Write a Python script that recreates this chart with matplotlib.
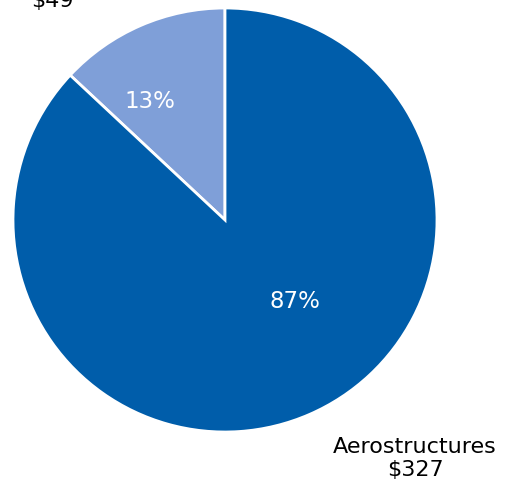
import matplotlib
matplotlib.use("Agg")
import matplotlib.pyplot as plt

categories = ["Other", "Aerostructures"]
values = [49, 327]
colors = ["#7F9FD8", "#005DAA"]

fig = plt.figure(figsize=(5.1, 4.85), dpi=100)
ax = fig.add_axes([0, 0, 1, 1])
ax.pie(values, colors=colors, startangle=90, counterclock=True,
       radius=1.0, center=(0, 0),
       wedgeprops=dict(edgecolor="white", linewidth=2))
ax.set_xlim(-225 / 212, 285 / 212)
ax.set_ylim(-264 / 212, 221 / 212)
ax.set_aspect("equal")
ax.axis("off")

total = sum(values)
pcts = [round(v / total * 100) for v in values]
ax.text(-0.354, 0.566, f"{pcts[0]}%", color="white", fontsize=16.5,
        ha="center", va="center")
ax.text(0.330, -0.382, f"{pcts[1]}%", color="white", fontsize=16.5,
        ha="center", va="center")

ax.text(0.897, -1.12, f"{categories[1]}\n${values[1]}", color="black",
        fontsize=16, ha="center", va="center", linespacing=1.2)
ax.text(-0.816, 1.04, f"${values[0]}", color="black", fontsize=16,
        ha="center", va="center")

fig.savefig("out.png", dpi=100)
